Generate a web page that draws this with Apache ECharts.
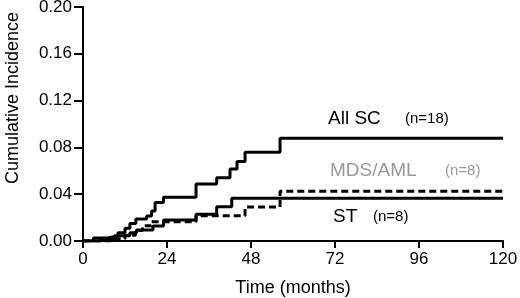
<!DOCTYPE html>
<html>
<head>
<meta charset="utf-8">
<script src="https://cdn.jsdelivr.net/npm/echarts@6/dist/echarts.min.js"></script>
<style>
  html, body { margin: 0; padding: 0; background: #fff; }
  #chart { width: 520px; height: 298px; }
</style>
</head>
<body>
<div id="chart"></div>
<script>
// step points: [month, cumulative incidence after the step]
const allSC = [[0, 0], [3, 0.0026], [7, 0.0043], [10, 0.007], [12, 0.011], [13.4, 0.015], [15.1, 0.0188],
  [18.2, 0.0214], [19.6, 0.0256], [20.6, 0.033], [23, 0.0373], [32.3, 0.0487], [38.2, 0.054],
  [42, 0.0615], [44, 0.068], [46.3, 0.0758], [56.3, 0.0878], [120, 0.0878]];
const mdsAml = [[0, 0], [8, 0.002], [12, 0.005], [15, 0.009], [17, 0.013], [19.5, 0.0165],
  [32.3, 0.0216], [46.3, 0.029], [56.3, 0.0425], [120, 0.0425]];
const st = [[0, 0], [5, 0.002], [9, 0.0045], [13.4, 0.007], [15.3, 0.0094], [20, 0.0128],
  [23, 0.018], [32.3, 0.0228], [38.2, 0.0293], [42.5, 0.0365], [120, 0.0365]];

const xTicks = [0, 24, 48, 72, 96, 120];
const yTicks = [0, 0.04, 0.08, 0.12, 0.16, 0.20];

const font = 'Liberation Sans, Arial, sans-serif';
const chart = echarts.init(document.getElementById('chart'), null, { renderer: 'canvas' });

const option = {
  backgroundColor: '#fff',
  animation: false,
  grid: { left: 83, right: 17, top: 7, bottom: 57, outerBoundsMode: 'none' },
  xAxis: {
    type: 'value',
    min: xTicks[0],
    max: xTicks[xTicks.length - 1],
    interval: 24,
    name: 'Time (months)',
    nameLocation: 'middle',
    nameGap: 38,
    nameTextStyle: { fontFamily: font, fontSize: 18, color: '#000' },
    axisLine: { lineStyle: { color: '#000', width: 2 } },
    axisTick: { length: 7, lineStyle: { color: '#000', width: 2 } },
    axisLabel: { fontFamily: font, fontSize: 17, color: '#000', margin: 10 },
    splitLine: { show: false }
  },
  yAxis: {
    type: 'value',
    min: yTicks[0],
    max: yTicks[yTicks.length - 1],
    interval: 0.04,
    axisLine: { show: true, lineStyle: { color: '#000', width: 2 } },
    axisTick: { show: true, length: 9, lineStyle: { color: '#000', width: 2 } },
    axisLabel: { fontFamily: font, fontSize: 17, color: '#000', margin: 11,
      formatter: v => v.toFixed(2) },
    splitLine: { show: false }
  },
  series: [
    { name: 'ST', type: 'line', step: 'end', data: st, symbol: 'none',
      lineStyle: { color: '#000', width: 3 } },
    { name: 'MDS/AML', type: 'line', step: 'end', data: mdsAml, symbol: 'none',
      lineStyle: { color: '#000', width: 3, type: [7, 4] } },
    { name: 'All SC', type: 'line', step: 'end', data: allSC, symbol: 'none',
      lineStyle: { color: '#000', width: 3 } }
  ],
  graphic: [
    { type: 'text', x: 13, y: 98, rotation: Math.PI / 2,
      style: { text: 'Cumulative Incidence', font: '18px ' + font, fill: '#000', align: 'center', verticalAlign: 'middle' } },
    { type: 'text', x: 328, y: 119,
      style: { text: 'All SC', font: '19px ' + font, fill: '#000', verticalAlign: 'middle' } },
    { type: 'text', x: 405, y: 119,
      style: { text: '(n=18)', font: '15px ' + font, fill: '#000', verticalAlign: 'middle' } },
    { type: 'text', x: 330, y: 171,
      style: { text: 'MDS/AML', font: '19px ' + font, fill: '#999', verticalAlign: 'middle' } },
    { type: 'text', x: 445, y: 171,
      style: { text: '(n=8)', font: '15px ' + font, fill: '#999', verticalAlign: 'middle' } },
    { type: 'text', x: 333, y: 217,
      style: { text: 'ST', font: '19px ' + font, fill: '#000', verticalAlign: 'middle' } },
    { type: 'text', x: 373, y: 217,
      style: { text: '(n=8)', font: '15px ' + font, fill: '#000', verticalAlign: 'middle' } }
  ]
};
chart.setOption(option);
</script>
</body>
</html>
